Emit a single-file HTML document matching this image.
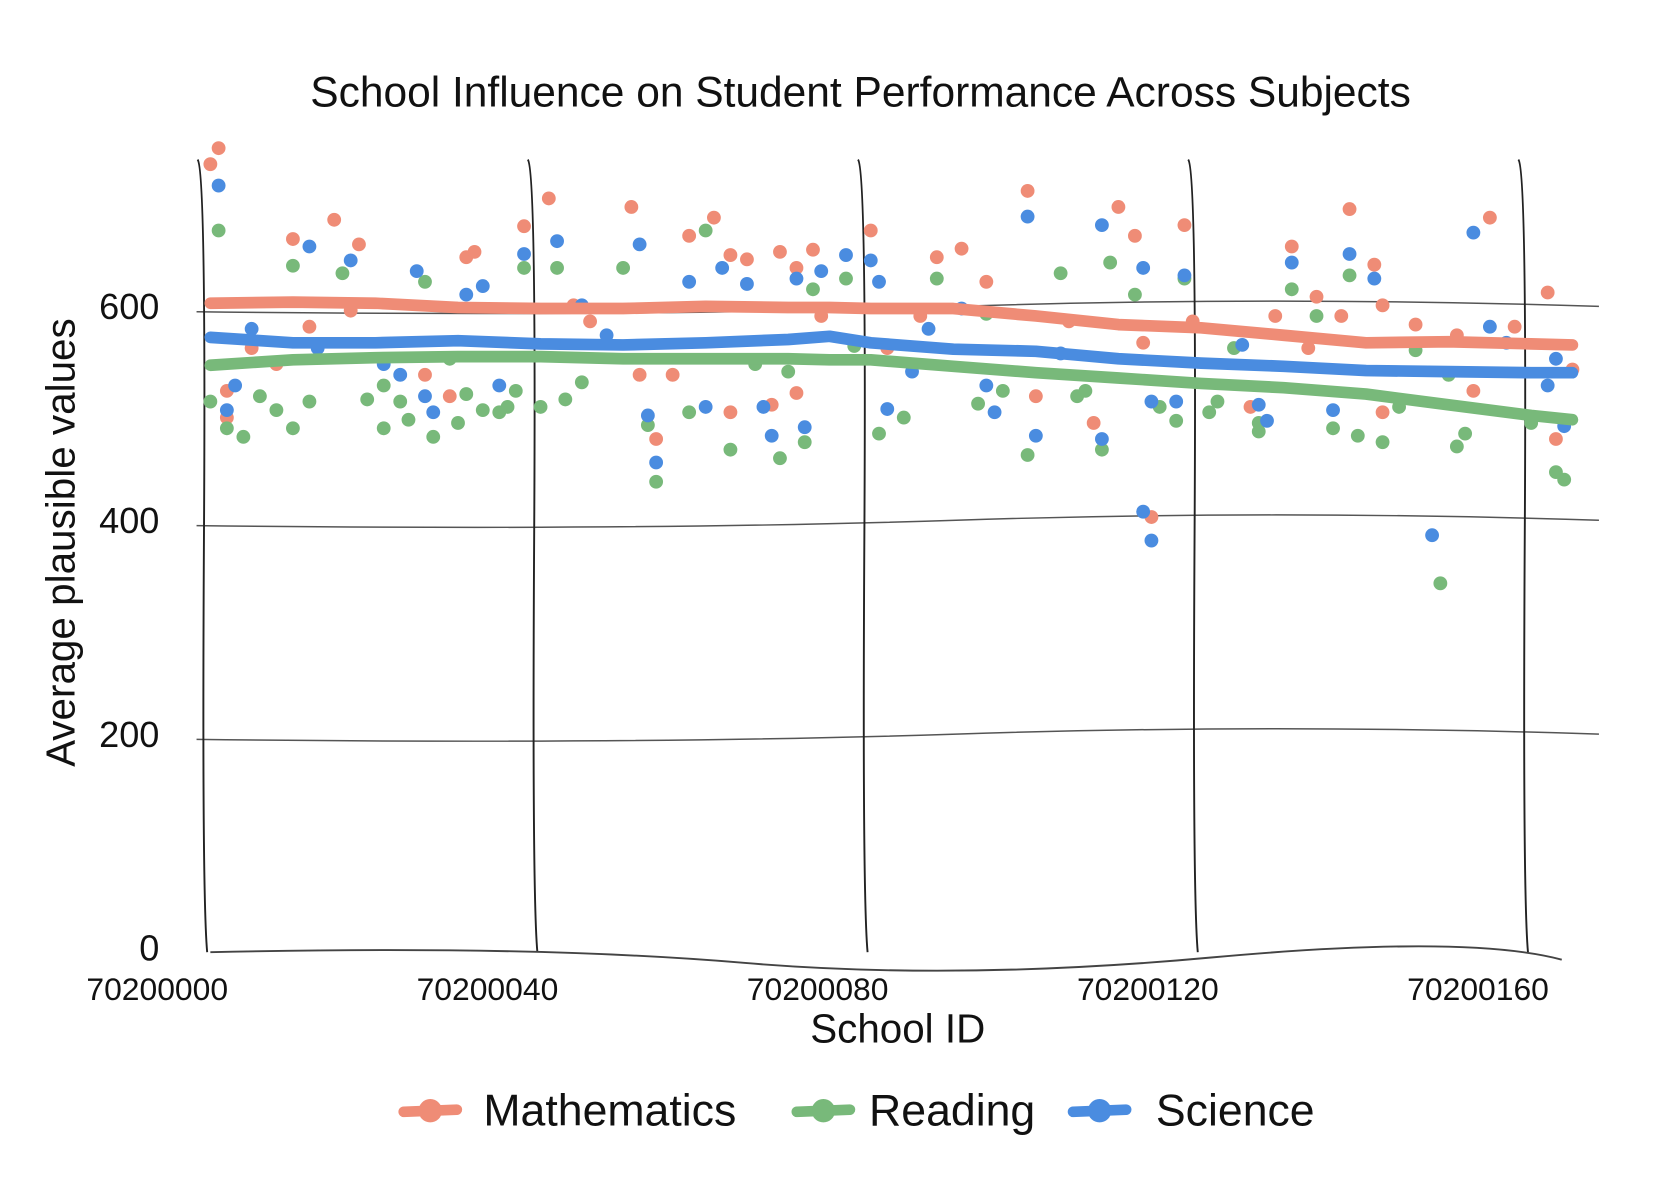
<!DOCTYPE html>
<html><head><meta charset="utf-8"><style>
html,body{margin:0;padding:0;background:#fff;}
svg{display:block;}
text{font-family:"Liberation Sans",sans-serif;fill:#111;}
</style></head><body>
<svg id="chart" width="1668" height="1182" viewBox="0 0 1570 1111" preserveAspectRatio="none" xmlns="http://www.w3.org/2000/svg">
<text x="810" y="100" font-size="40" text-anchor="middle">School Influence on Student Performance Across Subjects</text>
<text transform="translate(70,510) rotate(-90)" font-size="38" text-anchor="middle">Average plausible values</text>
<text x="845" y="980" font-size="38" text-anchor="middle">School ID</text>
<g id="grid"></g>
<g id="ticks"></g>
<g id="marks"></g>
<g id="legend"></g>
</svg>
<script>
const xTicks = [0, 40, 80, 120, 160];
const xTickLabels = ["70200000", "70200040", "70200080", "70200120", "70200160"];
const yTicks = [0, 200, 400, 600];
const seriesNames = ["Mathematics", "Reading", "Science"];

const mathIds = [0,1,2,2,8,10,15,17,18,5,12,26,29,31,32,38,41,44,46,51,52,54,56,58,61,63,65,63,68,69,71,73,74,71,80,82,86,88,91,94,99,100,104,107,110,112,113,114,118,119,126,129,131,133,134,138,137,141,142,142,146,151,153,155,158,162,163,165];
const mathVals = [735,750,523,498,548,665,683,598,660,563,583,538,518,648,653,677,703,603,588,695,538,478,538,668,685,650,646,503,510,653,638,655,593,521,673,563,593,648,656,625,710,518,588,493,695,668,568,405,678,588,508,593,658,563,611,693,593,641,603,503,585,575,523,685,583,615,478,543];

const readIds = [0,1,2,4,6,8,10,12,10,16,19,21,21,23,24,26,27,29,30,31,33,35,36,37,38,40,42,43,45,50,53,54,58,60,63,66,69,70,72,73,77,78,81,84,88,93,94,96,99,103,105,106,108,109,112,115,117,118,121,122,124,127,127,131,134,136,138,139,142,144,146,149,150,151,152,160,163,164];
const readVals = [513,673,488,480,518,505,488,513,640,633,515,528,488,513,496,625,480,553,493,520,505,503,508,523,638,508,638,515,531,638,491,438,503,673,468,548,460,541,475,618,628,565,483,498,628,511,595,523,463,633,518,523,468,643,613,508,495,628,503,513,563,493,485,618,593,488,631,481,475,508,561,343,538,471,483,493,447,440];

const sciIds = [1,2,3,5,12,13,17,21,23,25,26,27,31,33,35,38,42,45,48,52,53,54,58,60,62,65,67,68,71,72,74,77,80,81,82,85,87,91,94,95,99,100,103,108,108,113,113,114,114,117,118,125,127,128,131,136,138,141,148,153,155,157,162,163,164];
const sciVals = [715,505,528,581,658,563,645,548,538,635,518,503,613,621,528,651,663,603,575,660,500,456,625,508,638,623,508,481,628,489,635,650,645,625,506,541,581,600,528,503,686,481,558,478,678,638,410,383,513,513,631,566,510,495,643,505,651,628,388,671,583,568,528,553,490];

const trendIds = [0,10,20,30,40,50,60,70,75,80,90,100,110,120,130,140,150,160,165];
const mathTrend = [605,606,605,601,600,600,602,601,601,600,600,593,585,582,575,568,569,567,566];
const readTrend = [547,552,554,555,555,553,553,553,552,552,546,540,535,530,526,520,510,500,496];
const sciTrend  = [573,568,568,570,567,566,568,571,574,568,562,560,553,549,546,542,541,540,540];

const colors = ["#ef8c76", "#78b97a", "#4a8ce0"];
const NS = "http://www.w3.org/2000/svg";
function xScale(i){ return 198 + i * 7.77; }
function yScale(v){ return 893 - v * 1.005; }
function mk(tag, attrs, parent){
  const el = document.createElementNS(NS, tag);
  for (const k in attrs) el.setAttribute(k, attrs[k]);
  parent.appendChild(el);
  return el;
}
const grid = document.getElementById("grid");
const ticks = document.getElementById("ticks");
const marks = document.getElementById("marks");
const legend = document.getElementById("legend");

yTicks.forEach(function(t){
  if (t === 0) return;
  const y = yScale(t);
  const l = mk("path", {d:"M185 "+(y+3)+" Q600 "+(y+8)+" 900 "+(y-2)+" T1505 "+(y-2), fill:"none", stroke:"#555", "stroke-width":1.4}, grid);
  
  
});
xTicks.forEach(function(t){
  const x = xScale(t);
  const l = mk("path", {d:"M"+(x-12)+" 150 Q"+(x-4)+" 160 "+(x-6)+" 500 T"+(x-3)+" 895", fill:"none", stroke:"#222", "stroke-width":1.8}, grid);
  
  
});
const xa = mk("path", {d:"M198 895 Q500 888 700 905 T1140 900 T1470 902", fill:"none", stroke:"#444", "stroke-width":1.8}, grid);



yTicks.forEach(function(t){
  const tx = mk("text", {x:150, y:yScale(t)+10, "font-size":34, "text-anchor":"end"}, ticks);
  tx.textContent = String(t);
  
  
});
xTicks.forEach(function(t, k){
  const tx = mk("text", {x:xScale(t)-50, y:940, "font-size":30, "text-anchor":"middle"}, ticks);
  tx.textContent = xTickLabels[k];
  
  
});

const pointSets = [[mathIds, mathVals], [readIds, readVals], [sciIds, sciVals]];
pointSets.forEach(function(ps, s){
  ps[0].forEach(function(id, k){
    const c = mk("circle", {cx:xScale(id), cy:yScale(ps[1][k]), r:6.5, fill:colors[s]}, marks);
    
    
  });
});
const trends = [mathTrend, readTrend, sciTrend];
trends.forEach(function(tr, s){
  let d = "";
  trendIds.forEach(function(id, k){ d += (k ? " L" : "M") + xScale(id).toFixed(1) + " " + yScale(tr[k]).toFixed(1); });
  const p = mk("path", {d:d, fill:"none", stroke:colors[s], "stroke-width":11, "stroke-linecap":"round", "stroke-linejoin":"round"}, marks);
  
  
});

const legendPos = [[380, 455], [750, 818], [1010, 1088]];
seriesNames.forEach(function(n, s){
  const lx = legendPos[s][0];
  const g = mk("g", {}, legend);
  
  
  mk("line", {x1:lx, y1:1045, x2:lx+50, y2:1043, stroke:colors[s], "stroke-width":10, "stroke-linecap":"round"}, g);
  mk("circle", {cx:lx+25, cy:1044, r:11, fill:colors[s]}, g);
  const tx = mk("text", {x:legendPos[s][1], y:1058, "font-size":42}, g);
  tx.textContent = n;
});
</script>
</body></html>
